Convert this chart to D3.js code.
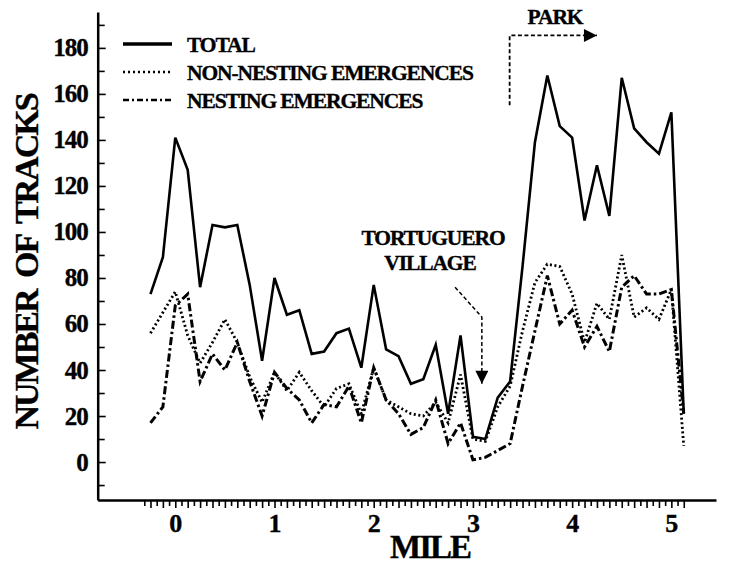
<!DOCTYPE html>
<html>
<head>
<meta charset="utf-8">
<script src="https://cdn.jsdelivr.net/npm/d3@7"></script>
<style>
  body { margin: 0; background: #fff; }
  text { font-family: "Liberation Serif", "Times New Roman", serif; font-weight: bold; fill: #000; stroke: #000; stroke-width: 0.35px; }
</style>
</head>
<body>
<div id="chart"></div>
<script>
// sample positions along the beach, every 1/8 mile starting at -1/4
var miles = d3.range(44).map(function (i) { return -0.25 + i / 8; });

var total = [73, 89, 141, 127, 76, 103, 102, 103, 77, 44, 80, 64, 66, 47, 48, 56, 58, 41, 77, 49, 46, 34,
  36, 51, 21, 55, 11, 10, 28, 35, 85, 139, 168, 146, 141, 105, 129, 107, 167, 145, 139, 134, 152, 21];
var nonNesting = [56, 65, 74, 55, 43, 52, 62, 52, 37, 26, 39, 31, 39, 31, 24, 32, 34, 21, 41, 27, 24, 21,
  20, 26, 17, 38, 10, 9, 24, 33, 57, 78, 86, 85, 73, 52, 69, 62, 90, 63, 67, 62, 75, 7];
var nesting = [17, 24, 68, 73, 35, 47, 40, 52, 35, 20, 39, 32, 27, 17, 25, 24, 33, 17, 41, 27, 21, 12,
  15, 27, 8, 17, 1, 2, 5, 8, 33, 57, 81, 60, 66, 50, 59, 48, 76, 81, 73, 73, 75, 21];

var yTicks = [0, 20, 40, 60, 80, 100, 120, 140, 160, 180];
var yMinorTicks = [-10, 10, 30, 50, 70, 90, 110, 130, 150, 170, 190];
var xTicks = [0, 1, 2, 3, 4, 5];
var xMinorTicks = d3.range(-5, 83).map(function (k) { return k / 16; });

var seriesNames = ["TOTAL", "NON-NESTING EMERGENCES", "NESTING EMERGENCES"];

var width = 729, height = 565;

var svg = d3.select("#chart").append("svg")
  .attr("width", width)
  .attr("height", height);

var x = d3.scaleLinear().domain([-0.782, 5.45]).range([97.7, 716]);
var y = d3.scaleLinear().domain([-16.5, 195.6]).range([500, 12]);

// y axis: ticks inside, labels outside
var yAxis = svg.append("g")
  .attr("transform", "translate(" + x(-0.782) + ",0)")
  .call(d3.axisLeft(y).tickValues(yTicks).tickSize(-8).tickSizeOuter(0).tickPadding(10));
svg.append("g")
  .attr("transform", "translate(" + x(-0.782) + ",0)")
  .call(d3.axisLeft(y).tickValues(yMinorTicks).tickSize(-7).tickSizeOuter(0).tickFormat(""))
  .select(".domain").remove();
yAxis.selectAll("text")
  .attr("font-size", 25)
  .attr("font-family", "Liberation Serif")
  .attr("font-weight", "bold")
  .attr("letter-spacing", -1);

// x axis
var xAxis = svg.append("g")
  .attr("transform", "translate(0," + y(-16.5) + ")")
  .call(d3.axisBottom(x).tickValues(xTicks).tickSize(0).tickSizeOuter(0).tickPadding(14).tickFormat(d3.format("d")));
xAxis.selectAll("text")
  .attr("font-size", 26)
  .attr("font-family", "Liberation Serif")
  .attr("font-weight", "bold");
svg.append("g")
  .attr("transform", "translate(0," + y(-16.5) + ")")
  .call(d3.axisBottom(x).tickValues(xMinorTicks.filter(function (d, i) { return i % 2 === 1; }))
    .tickSize(8).tickSizeOuter(0).tickFormat(""))
  .select(".domain").remove();
svg.append("g")
  .attr("transform", "translate(0," + y(-16.5) + ")")
  .call(d3.axisBottom(x).tickValues(xMinorTicks.filter(function (d, i) { return i % 2 === 0; }))
    .tickSize(6).tickSizeOuter(0).tickFormat(""))
  .select(".domain").remove();

svg.selectAll(".domain").attr("stroke", "#000").attr("stroke-width", 2.5);
svg.selectAll(".tick line").attr("stroke", "#000").attr("stroke-width", 1.6);

// axis titles
svg.append("text")
  .attr("x", 430)
  .attr("y", 558)
  .attr("text-anchor", "middle")
  .attr("font-size", 33)
  .attr("letter-spacing", -2)
  .text("MILE");

svg.append("text")
  .attr("transform", "translate(38," + 262 + ") rotate(-90)")
  .attr("text-anchor", "middle")
  .attr("font-size", 34)
  .attr("letter-spacing", -2)
  .attr("word-spacing", 6)
  .text("NUMBER OF TRACKS");

// line styles
var styles = [
  { width: 2.6, dash: null },
  { width: 2.8, dash: "2,2.6" },
  { width: 3, dash: "8,3,2.5,3" }
];
var allSeries = [total, nonNesting, nesting];

var line = d3.line()
  .x(function (d, i) { return x(miles[i]); })
  .y(function (d) { return y(d); });

allSeries.forEach(function (vals, k) {
  svg.append("path")
    .datum(vals)
    .attr("d", line)
    .attr("fill", "none")
    .attr("stroke", "#000")
    .attr("stroke-width", styles[k].width)
    .attr("stroke-dasharray", styles[k].dash)
    .attr("stroke-linejoin", "miter");
});

// legend
var legend = svg.append("g").attr("transform", "translate(123,44)");
seriesNames.forEach(function (name, k) {
  var row = legend.append("g").attr("transform", "translate(0," + (k * 28) + ")");
  row.append("line")
    .attr("x1", 0).attr("x2", 49)
    .attr("y1", 0).attr("y2", 0)
    .attr("stroke", "#000")
    .attr("stroke-width", k === 0 ? 3.4 : 2.4)
    .attr("stroke-dasharray", k === 1 ? "2,3" : (k === 2 ? "6,3,2,3" : null));
  row.append("text")
    .attr("x", 64)
    .attr("y", 7.6)
    .attr("font-size", 21.5)
    .attr("letter-spacing", -1.1)
    .text(name);
});

// arrowheads
svg.append("defs").append("marker")
  .attr("id", "head")
  .attr("viewBox", "0 0 10 10")
  .attr("refX", 10).attr("refY", 5)
  .attr("markerUnits", "userSpaceOnUse")
  .attr("markerWidth", 20).attr("markerHeight", 13)
  .attr("orient", "auto")
  .append("path")
  .attr("d", "M0,0L10,5L0,10Z")
  .attr("fill", "#000");

// park annotation
svg.append("text")
  .attr("x", 555)
  .attr("y", 24)
  .attr("text-anchor", "middle")
  .attr("font-size", 21.5)
  .attr("letter-spacing", -1.1)
  .text("PARK");
svg.append("path")
  .attr("d", "M" + x(3.37) + "," + y(155.1) + "V" + y(185.4) + "H" + x(4.25))
  .attr("fill", "none")
  .attr("stroke", "#000")
  .attr("stroke-width", 1.8)
  .attr("stroke-dasharray", "4,2.5")
  .attr("marker-end", "url(#head)");

// village annotation
svg.append("text")
  .attr("x", 433)
  .attr("y", 245)
  .attr("text-anchor", "middle")
  .attr("font-size", 21.5)
  .attr("letter-spacing", -1.1)
  .text("TORTUGUERO");
svg.append("text")
  .attr("x", 430)
  .attr("y", 270)
  .attr("text-anchor", "middle")
  .attr("font-size", 21.5)
  .attr("letter-spacing", -1.1)
  .text("VILLAGE");
svg.append("path")
  .attr("d", "M" + x(2.82) + "," + y(76) + "L" + x(3.09) + "," + y(63) + "V" + y(34))
  .attr("fill", "none")
  .attr("stroke", "#000")
  .attr("stroke-width", 1.5)
  .attr("stroke-dasharray", "4,2.5")
  .attr("marker-end", "url(#head)");
</script>
</body>
</html>
